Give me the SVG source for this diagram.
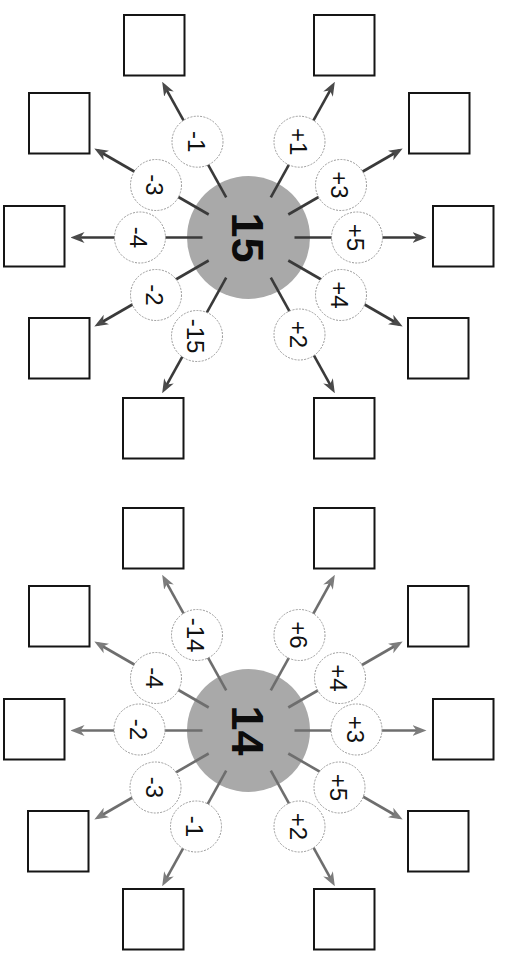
<svg xmlns="http://www.w3.org/2000/svg" width="507" height="966" viewBox="0 0 507 966">
<defs>
<style>
.box{fill:#fff;stroke:#151515;stroke-width:2}
.hub{fill:#a9a9a9}
.hubtxt{font-family:"Liberation Sans",Arial,sans-serif;font-weight:bold;font-size:45px;fill:#0c0c0c;text-anchor:middle}
.sc{fill:#fff;stroke:#9a9a9a;stroke-width:1;stroke-dasharray:2 1.3}
.lbl{font-family:"Liberation Sans",Arial,sans-serif;font-size:24px;fill:#111;text-anchor:middle}
.ct{fill:none;stroke:#3a3a3a;stroke-width:2.6;marker-end:url(#ah1)}
.cb{fill:none;stroke:#6e6e6e;stroke-width:2.6;marker-end:url(#ah2)}
</style>
<marker id="ah1" markerUnits="userSpaceOnUse" markerWidth="14" markerHeight="12" viewBox="0 0 14 12" refX="10" refY="6" orient="auto"><path d="M0,0.5 L14,6 L0,11.5 L4,6 Z" fill="#4a4a4a"/></marker>
<marker id="ah2" markerUnits="userSpaceOnUse" markerWidth="14" markerHeight="12" viewBox="0 0 14 12" refX="10" refY="6" orient="auto"><path d="M0,0.5 L14,6 L0,11.5 L4,6 Z" fill="#7c7c7c"/></marker>
</defs>
<rect width="507" height="966" fill="#fff"/>

<!-- Diagram 1: 15 -->
<g id="diagram15">
<g id="hub15"><circle class="hub" cx="248.5" cy="237.5" r="61.5"/><text class="hubtxt" transform="translate(248.5 237.5) rotate(90)" x="0" y="16.5">15</text></g>
<g id="connectors15">
<path class="ct" d="M226.2,197.3 L164.1,85.3"/>
<path class="ct" d="M270.8,197.3 L332.9,85.3"/>
<path class="ct" d="M208.7,214.5 L97.8,150.5"/>
<path class="ct" d="M288.3,214.5 L399.2,150.5"/>
<path class="ct" d="M202.5,237.5 L74.5,237.5"/>
<path class="ct" d="M294.5,237.5 L422.5,237.5"/>
<path class="ct" d="M208.7,260.5 L97.8,324.5"/>
<path class="ct" d="M288.3,260.5 L399.2,324.5"/>
<path class="ct" d="M226.2,277.7 L164.1,389.7"/>
<path class="ct" d="M270.8,277.7 L332.9,389.7"/>
</g>
<g id="op15_m1"><circle class="sc" cx="197.5" cy="141.7" r="25.5"/><text class="lbl" transform="translate(197.5 141.7) rotate(90)" y="10">-1</text></g>
<g id="op15_p1"><circle class="sc" cx="299.5" cy="141.7" r="25.5"/><text class="lbl" transform="translate(299.5 141.7) rotate(90)" y="10">+1</text></g>
<g id="op15_m3"><circle class="sc" cx="156" cy="185" r="25.5"/><text class="lbl" transform="translate(156 185) rotate(90)" y="10">-3</text></g>
<g id="op15_p3"><circle class="sc" cx="341" cy="185" r="25.5"/><text class="lbl" transform="translate(341 185) rotate(90)" y="10">+3</text></g>
<g id="op15_m4"><circle class="sc" cx="140" cy="237.5" r="25.5"/><text class="lbl" transform="translate(140 237.5) rotate(90)" y="10">-4</text></g>
<g id="op15_p5"><circle class="sc" cx="357" cy="237.5" r="25.5"/><text class="lbl" transform="translate(357 237.5) rotate(90)" y="10">+5</text></g>
<g id="op15_m2"><circle class="sc" cx="156" cy="295" r="25.5"/><text class="lbl" transform="translate(156 295) rotate(90)" y="10">-2</text></g>
<g id="op15_p4"><circle class="sc" cx="341" cy="295" r="25.5"/><text class="lbl" transform="translate(341 295) rotate(90)" y="10">+4</text></g>
<g id="op15_m15"><circle class="sc" cx="197" cy="336" r="25.5"/><text class="lbl" transform="translate(197 336) rotate(90)" y="10">-15</text></g>
<g id="op15_p2"><circle class="sc" cx="299.5" cy="334.5" r="25.5"/><text class="lbl" transform="translate(299.5 334.5) rotate(90)" y="10">+2</text></g>
<g id="box15_1"><rect class="box" x="124" y="15" width="60.5" height="60.5"/></g>
<g id="box15_2"><rect class="box" x="314" y="15" width="60.5" height="60.5"/></g>
<g id="box15_3"><rect class="box" x="29" y="93" width="60.5" height="60.5"/></g>
<g id="box15_4"><rect class="box" x="409" y="93" width="60.5" height="60.5"/></g>
<g id="box15_5"><rect class="box" x="4" y="206" width="60.5" height="60.5"/></g>
<g id="box15_6"><rect class="box" x="433" y="206" width="60.5" height="60.5"/></g>
<g id="box15_7"><rect class="box" x="29" y="318" width="60.5" height="60.5"/></g>
<g id="box15_8"><rect class="box" x="408" y="318" width="60.5" height="60.5"/></g>
<g id="box15_9"><rect class="box" x="123" y="398" width="60.5" height="60.5"/></g>
<g id="box15_10"><rect class="box" x="314" y="398" width="60.5" height="60.5"/></g>
</g>

<!-- Diagram 2: 14 -->
<g id="diagram14" transform="translate(0 493)">
<g id="hub14"><circle class="hub" cx="248.5" cy="237.5" r="61.5"/><text class="hubtxt" transform="translate(248.5 237.5) rotate(90)" x="0" y="16.5">14</text></g>
<g id="connectors14">
<path class="cb" d="M226.2,197.3 L164.1,85.3"/>
<path class="cb" d="M270.8,197.3 L332.9,85.3"/>
<path class="cb" d="M208.7,214.5 L97.8,150.5"/>
<path class="cb" d="M288.3,214.5 L399.2,150.5"/>
<path class="cb" d="M202.5,237.5 L74.5,237.5"/>
<path class="cb" d="M294.5,237.5 L422.5,237.5"/>
<path class="cb" d="M208.7,260.5 L97.8,324.5"/>
<path class="cb" d="M288.3,260.5 L399.2,324.5"/>
<path class="cb" d="M226.2,277.7 L164.1,389.7"/>
<path class="cb" d="M270.8,277.7 L332.9,389.7"/>
</g>
<g id="op14_m14"><circle class="sc" cx="197" cy="142" r="25.5"/><text class="lbl" transform="translate(197 142) rotate(90)" y="10">-14</text></g>
<g id="op14_p6"><circle class="sc" cx="299.5" cy="142" r="25.5"/><text class="lbl" transform="translate(299.5 142) rotate(90)" y="10">+6</text></g>
<g id="op14_m4"><circle class="sc" cx="156" cy="185" r="25.5"/><text class="lbl" transform="translate(156 185) rotate(90)" y="10">-4</text></g>
<g id="op14_p4"><circle class="sc" cx="340" cy="185" r="25.5"/><text class="lbl" transform="translate(340 185) rotate(90)" y="10">+4</text></g>
<g id="op14_m2"><circle class="sc" cx="139.5" cy="236.5" r="25.5"/><text class="lbl" transform="translate(139.5 236.5) rotate(90)" y="10">-2</text></g>
<g id="op14_p3"><circle class="sc" cx="356.5" cy="236.5" r="25.5"/><text class="lbl" transform="translate(356.5 236.5) rotate(90)" y="10">+3</text></g>
<g id="op14_m3"><circle class="sc" cx="155.5" cy="294.5" r="25.5"/><text class="lbl" transform="translate(155.5 294.5) rotate(90)" y="10">-3</text></g>
<g id="op14_p5"><circle class="sc" cx="339.5" cy="294.5" r="25.5"/><text class="lbl" transform="translate(339.5 294.5) rotate(90)" y="10">+5</text></g>
<g id="op14_m1"><circle class="sc" cx="196" cy="333.5" r="25.5"/><text class="lbl" transform="translate(196 333.5) rotate(90)" y="10">-1</text></g>
<g id="op14_p2"><circle class="sc" cx="299.5" cy="333.5" r="25.5"/><text class="lbl" transform="translate(299.5 333.5) rotate(90)" y="10">+2</text></g>
<g id="box14_1"><rect class="box" x="123" y="15" width="60.5" height="60.5"/></g>
<g id="box14_2"><rect class="box" x="314" y="15" width="60.5" height="60.5"/></g>
<g id="box14_3"><rect class="box" x="29" y="93" width="60.5" height="60.5"/></g>
<g id="box14_4"><rect class="box" x="408" y="93" width="60.5" height="60.5"/></g>
<g id="box14_5"><rect class="box" x="4" y="206" width="60.5" height="60.5"/></g>
<g id="box14_6"><rect class="box" x="433" y="206" width="60.5" height="60.5"/></g>
<g id="box14_7"><rect class="box" x="28" y="318" width="60.5" height="60.5"/></g>
<g id="box14_8"><rect class="box" x="408" y="318" width="60.5" height="60.5"/></g>
<g id="box14_9"><rect class="box" x="123" y="396" width="60.5" height="60.5"/></g>
<g id="box14_10"><rect class="box" x="314" y="396" width="60.5" height="60.5"/></g>
</g>
</svg>
